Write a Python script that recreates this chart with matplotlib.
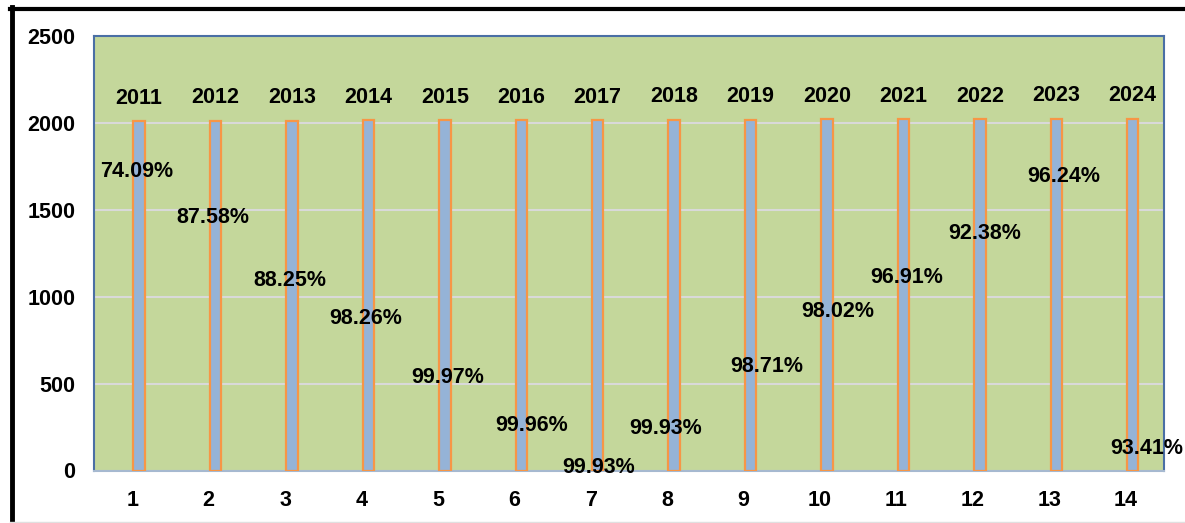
import matplotlib
matplotlib.use("Agg")
import matplotlib.pyplot as plt
from matplotlib.lines import Line2D

plt.rcParams['font.family'] = ['Liberation Sans', 'DejaVu Sans']

categories = list(range(1, 15))
years = [2011, 2012, 2013, 2014, 2015, 2016, 2017, 2018, 2019, 2020, 2021, 2022, 2023, 2024]
pct_labels = ["74.09%", "87.58%", "88.25%", "98.26%", "99.97%", "99.96%", "99.93%",
              "99.93%", "98.71%", "98.02%", "96.91%", "92.38%", "96.24%", "93.41%"]
# where each percentage label sits (data coordinates)
pct_x = [1.056, 2.057, 3.064, 4.059, 5.132, 6.231, 7.101, 7.984, 9.299, 10.234, 11.131, 12.158, 13.191, 14.273]
pct_y = [1718, 1458, 1095, 876, 536, 259, 19, 244, 599, 916, 1112, 1366, 1689, 125]
yticks = [0, 500, 1000, 1500, 2000, 2500]

FS = 15.5
W, H = 1185, 523
fig = plt.figure(figsize=(W / 100, H / 100), dpi=100)
fig.patch.set_facecolor('white')
ax = fig.add_axes([94 / W, 1 - 470.5 / H, (1164 - 94) / W, (470.5 - 36) / H])
ax.set_facecolor('#C4D79B')

bar_off = 0.09
xs = [c + bar_off for c in categories]
ax.bar(xs, years, width=0.15, color='#95B3D7', edgecolor='#F79646', linewidth=1.6, zorder=3)

for x, v in zip(xs, years):
    ax.annotate(str(v), (x, v), xytext=(0, 16.5), textcoords='offset points',
                ha='center', va='center', fontsize=FS, fontweight='bold', zorder=5)

for x, y, t in zip(pct_x, pct_y, pct_labels):
    ax.text(x, y, t, ha='center', va='center', fontsize=FS, fontweight='bold',
            zorder=6, clip_on=False)

ax.set_xlim(0.5, 14.5)
ax.set_ylim(0, 2500)
ax.set_yticks(yticks)
ax.set_xticks(categories)
ax.set_yticklabels([str(v) for v in yticks])
ax.set_xticklabels([str(c) for c in categories])
ax.tick_params(axis='both', length=0, labelsize=FS)
ax.tick_params(axis='x', pad=14)
ax.tick_params(axis='y', pad=13.5)
for lbl in ax.get_xticklabels() + ax.get_yticklabels():
    lbl.set_fontweight('bold')

ax.yaxis.grid(True, color='#D9D9D9', linewidth=1.5, zorder=1)
ax.set_axisbelow(True)
for s in ['left', 'top', 'right']:
    ax.spines[s].set_color('#4A6FA5')
    ax.spines[s].set_linewidth(1.5)
ax.spines['bottom'].set_color('#A6B9D0')
ax.spines['bottom'].set_linewidth(1.5)

# figure frame lines
fig.add_artist(Line2D([11.5 / W, 11.5 / W], [0, 1 - 7 / H], color='black', linewidth=3.5,
                      transform=fig.transFigure))
fig.add_artist(Line2D([10 / W, 1], [1 - 8.5 / H, 1 - 8.5 / H], color='black', linewidth=3,
                      transform=fig.transFigure))
fig.add_artist(Line2D([10 / W, 1], [1 / H, 1 / H], color='#E0E0E0', linewidth=1,
                      transform=fig.transFigure))

fig.savefig('out.png', dpi=100)
